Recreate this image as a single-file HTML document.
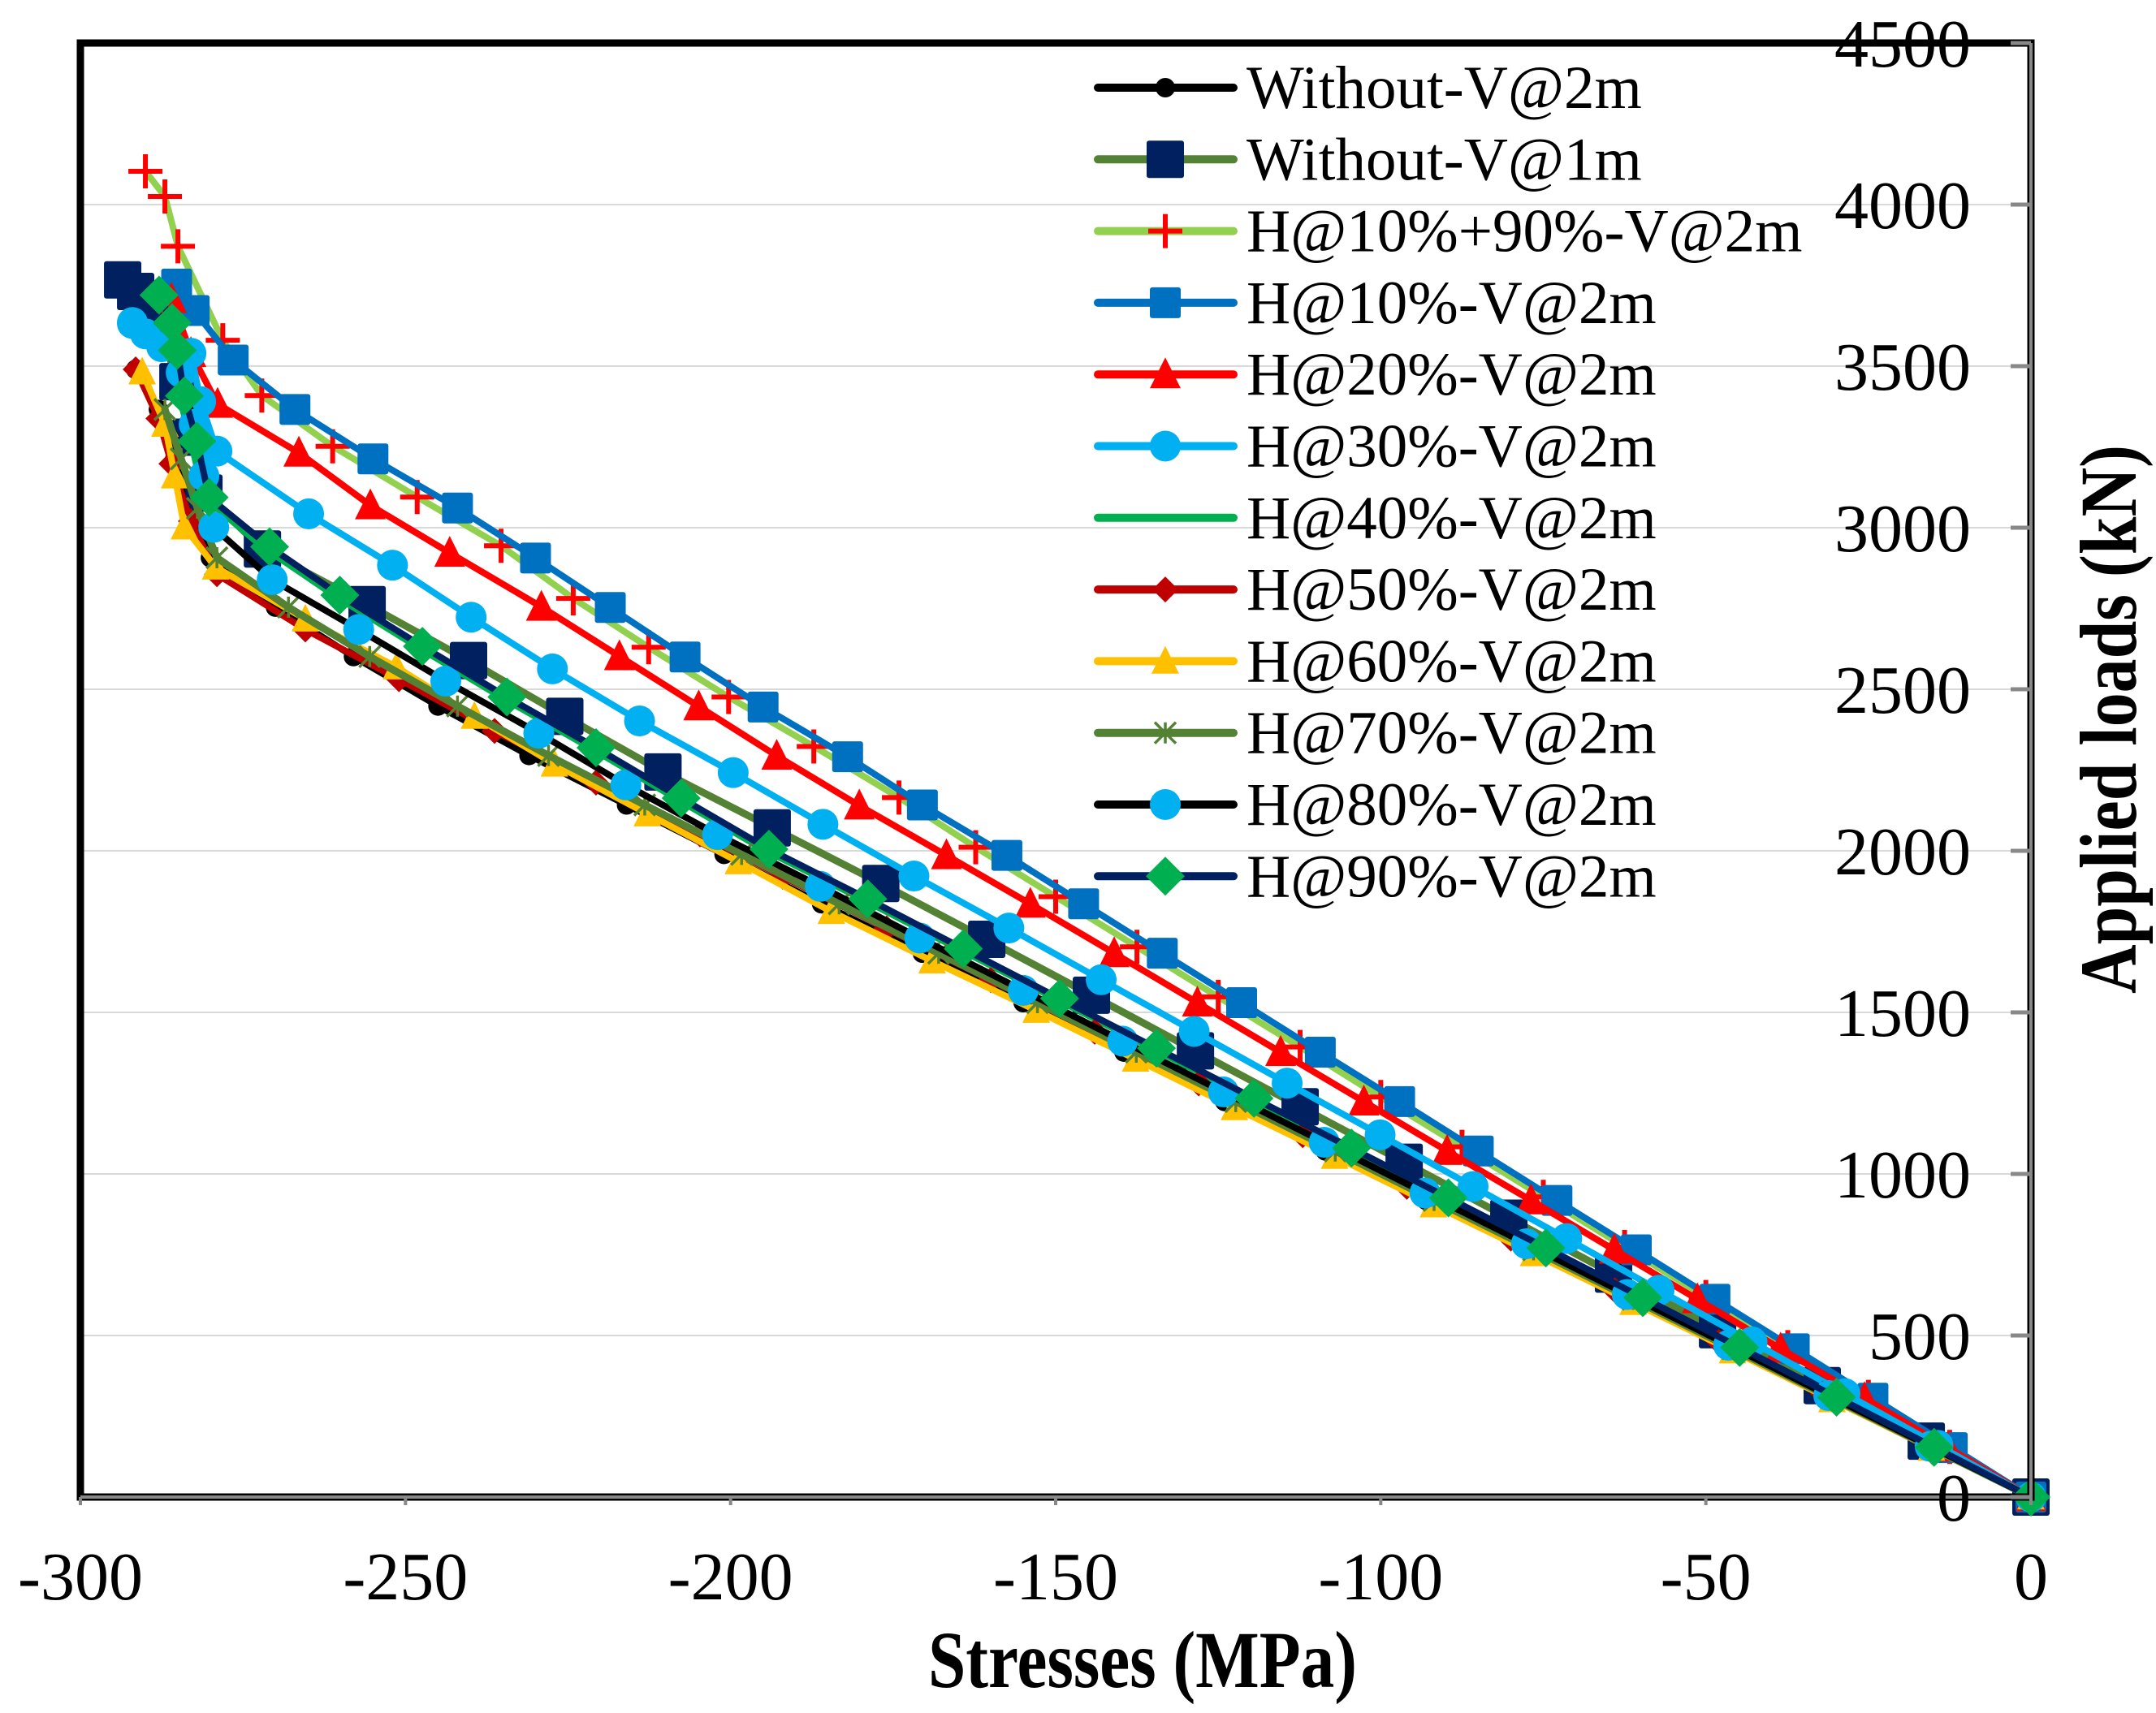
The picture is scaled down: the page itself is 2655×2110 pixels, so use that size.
<!DOCTYPE html>
<html><head><meta charset="utf-8"><style>
html,body{margin:0;padding:0;background:#fff;}
svg{display:block;}
text{font-family:"Liberation Serif","Times New Roman",serif;fill:#000;}
</style></head><body>
<svg id="chart" width="2655" height="2110" viewBox="0 0 2655 2110" xmlns="http://www.w3.org/2000/svg">
<g id="grid"></g>
<g id="series"></g>
<g id="frame"></g>
<g id="ticks"></g>
<g id="legend"></g>
<text x="1407" y="2078" font-size="100" font-weight="bold" text-anchor="middle" textLength="528" lengthAdjust="spacingAndGlyphs">Stresses (MPa)</text>
<text transform="translate(2630,886) rotate(-90)" x="0" y="0" font-size="100" font-weight="bold" text-anchor="middle" textLength="676" lengthAdjust="spacingAndGlyphs">Applied loads (kN)</text>
</svg>
<script>
const xTicks = [-300,-250,-200,-150,-100,-50,0];
const yTicks = [0,500,1000,1500,2000,2500,3000,3500,4000,4500];
const seriesNames = ["Without-V@2m","Without-V@1m","H@10%+90%-V@2m","H@10%-V@2m","H@20%-V@2m","H@30%-V@2m","H@40%-V@2m","H@50%-V@2m","H@60%-V@2m","H@70%-V@2m","H@80%-V@2m","H@90%-V@2m"];

const loadsW2 = [0,153,306,459,612,765,918,1071,1224,1377,1530,1683,1836,1989,2142,2295,2448,2601,2754,2907,3060,3213,3366,3490];
const stressW2 = [0,-15.5,-31,-46.5,-62,-77.5,-93,-108.5,-124,-139.5,-155,-170.5,-186,-201,-216,-231,-245,-258,-270,-280,-283,-285.5,-288,-291.5];
const loadsW1 = [0,173,345,518,690,863,1036,1208,1381,1553,1726,1899,2071,2244,2416,2589,2762,2934,3107,3280,3452,3625,3731,3767];
const stressW1 = [0,-16.1,-32.1,-48.2,-64.2,-80.3,-96.4,-112.4,-128.5,-144.5,-160.6,-176.9,-193.6,-210.4,-225.5,-240.3,-255.9,-272,-281,-283,-285,-288,-291.5,-293.5];
const loadsH1090 = [0,155,310,464,619,774,929,1084,1238,1393,1548,1703,1858,2011,2165,2323,2476,2630,2781,2944,3095,3252,3409,3580,3871,4025,4103];
const stressH1090 = [0,-12.5,-25,-37.4,-50,-62.5,-75,-87.5,-100,-112.4,-125,-137.5,-150,-162.3,-174.1,-187.2,-200.3,-212.6,-224.2,-235.3,-248.2,-261.2,-272.1,-278.1,-285,-287,-290];
const loadsH10 = [0,153,306,459,612,765,918,1071,1224,1377,1530,1683,1836,1986,2142,2291,2445,2600,2753,2906,3061,3213,3366,3519,3672,3754];
const stressH10 = [0,-12.1,-24.3,-36.4,-48.6,-60.7,-72.9,-85,-97.1,-109.3,-121.4,-133.6,-145.7,-157.5,-170.5,-182,-195,-207,-218.5,-230,-242,-255,-267,-276.5,-282.5,-285.2];
const loadsH20 = [0,153,306,459,612,765,918,1071,1224,1377,1530,1683,1836,1986,2140,2294,2447,2602,2755,2922,3069,3232,3383,3540,3708];
const stressH20 = [0,-12.8,-25.6,-38.5,-51.3,-64.1,-76.9,-89.8,-102.6,-115.4,-128.2,-141,-153.9,-166.8,-180.2,-192.9,-204.9,-217.1,-229.1,-243.2,-255.4,-266.4,-278.9,-283,-286];
const loadsH30 = [0,160,320,480,640,800,961,1121,1281,1441,1601,1761,1922,2082,2242,2402,2563,2723,2884,3043,3237,3390,3540,3632];
const stressH30 = [0,-14.3,-28.6,-42.9,-57.2,-71.4,-85.8,-100.1,-114.4,-128.7,-143,-157.2,-171.8,-185.8,-199.6,-214,-227.4,-239.9,-252,-264.9,-279,-281.5,-283,-292];
const loadsH40 = [0,154,309,463,617,771,926,1080,1234,1389,1543,1697,1851,2005,2163,2319,2476,2633,2791,2941,3094,3268,3408,3549];
const stressH40 = [0,-15,-30,-45,-60,-75,-90,-105,-120,-135.2,-150.1,-165,-179.8,-195,-208.5,-221.6,-235.3,-248.3,-261,-272,-281,-283,-284.8,-286];
const loadsH50 = [0,160,320,480,640,800,960,1120,1280,1440,1600,1760,1920,2051,2211,2371,2531,2685,2856,3020,3198,3338,3490];
const stressH50 = [0,-16,-32,-48,-64,-80,-96,-112,-128,-144,-160,-176,-192,-204.7,-220.7,-236.3,-251,-265.4,-279,-283,-286,-288,-291.5];
const loadsH60 = [0,151,301,452,602,753,904,1054,1205,1355,1506,1659,1812,1966,2114,2268,2416,2569,2717,2878,3002,3160,3320,3482];
const stressH60 = [0,-15.3,-30.6,-45.9,-61.2,-76.5,-91.9,-107.1,-122.5,-137.7,-153,-169,-184.5,-198.8,-212.8,-227.1,-239.4,-251.4,-265.4,-279.2,-284,-285.5,-287,-290.5];
const loadsH70 = [0,153,306,459,612,765,918,1071,1224,1377,1530,1683,1836,1989,2142,2295,2448,2601,2754,2907,3060,3213,3366];
const stressH70 = [0,-15.3,-30.6,-45.9,-61.2,-76.5,-91.8,-107,-122.3,-137.6,-152.8,-168,-183.3,-198.3,-213.2,-228,-242,-255.5,-268,-279,-282,-284.5,-287];
const loadsH80 = [0,157,314,470,627,784,941,1098,1254,1411,1568,1730,1890,2050,2204,2364,2525,2685,2839,3001,3160,3320,3480,3560,3600,3635];
const stressH80 = [0,-15.5,-31.1,-46.5,-62.1,-77.6,-93.2,-108.7,-124.2,-139.7,-155,-170.9,-186.2,-202,-216.1,-229.5,-243.8,-257.2,-270.5,-279.5,-281,-282.5,-284.5,-287.5,-290,-292];
const loadsH90 = [0,154,309,463,617,771,926,1080,1234,1389,1543,1697,1851,2005,2163,2319,2476,2633,2791,2941,3094,3268,3408,3549,3634,3720];
const stressH90 = [0,-14.9,-29.9,-44.8,-59.7,-74.6,-89.6,-104.5,-119.5,-134.5,-149.4,-164.2,-178.9,-194.1,-207.6,-220.7,-234.4,-247.4,-260.1,-270.9,-280.2,-282.1,-284,-285.1,-285.9,-287.9];

const NS='http://www.w3.org/2000/svg';
const X0=99, X1=2501, Y0=1844, Y1=53;
function xs(v){return X1+(v-0)*(X1-X0)/300;}
function ys(v){return Y0-v*(Y0-Y1)/4500;}
function mk(tag,attrs,parent){const e=document.createElementNS(NS,tag);for(const k in attrs)e.setAttribute(k,attrs[k]);parent.appendChild(e);return e;}

const styles=[
 {line:'#000000',w:8,m:'circle',mc:'#000000',s:24},
 {line:'#548235',w:9,m:'square',mc:'#002060',s:46},
 {line:'#92d050',w:8,m:'plus',mc:'#ff0000',s:42},
 {line:'#0070c0',w:8,m:'square',mc:'#0070c0',s:38},
 {line:'#ff0000',w:8,m:'triangle',mc:'#ff0000',s:38},
 {line:'#00b0f0',w:8,m:'circle',mc:'#00b0f0',s:38},
 {line:'#00b050',w:8,m:'dash',mc:'#00b050',s:22},
 {line:'#c00000',w:8,m:'diamond',mc:'#c00000',s:32},
 {line:'#ffc000',w:8,m:'triangle',mc:'#ffc000',s:34},
 {line:'#548235',w:9,m:'star',mc:'#548235',s:26},
 {line:'#000000',w:8,m:'circle',mc:'#00b0f0',s:38},
 {line:'#002060',w:8,m:'diamond',mc:'#00b050',s:48}
];
const data=[[loadsW2,stressW2],[loadsW1,stressW1],[loadsH1090,stressH1090],[loadsH10,stressH10],[loadsH20,stressH20],[loadsH30,stressH30],[loadsH40,stressH40],[loadsH50,stressH50],[loadsH60,stressH60],[loadsH70,stressH70],[loadsH80,stressH80],[loadsH90,stressH90]];

function marker(g,st,x,y){
 const s=st.s,h=s/2;let e;
 if(st.m==='circle'){e=mk('circle',{cx:x,cy:y,r:h,fill:st.mc},g);}
 else if(st.m==='square'){e=mk('rect',{x:x-h,y:y-h,width:s,height:s,fill:st.mc,rx:3},g);}
 else if(st.m==='triangle'){e=mk('polygon',{points:`${x},${y-h*1.1} ${x+h},${y+h*0.9} ${x-h},${y+h*0.9}`,fill:st.mc},g);}
 else if(st.m==='diamond'){e=mk('polygon',{points:`${x},${y-h} ${x+h},${y} ${x},${y+h} ${x-h},${y}`,fill:st.mc},g);}
 else if(st.m==='plus'){e=mk('path',{d:`M${x-h} ${y}H${x+h}M${x} ${y-h}V${y+h}`,stroke:st.mc,'stroke-width':6,fill:'none'},g);}
 else if(st.m==='dash'){e=mk('rect',{x:x-h,y:y-4,width:s,height:8,fill:st.mc},g);}
 else if(st.m==='star'){e=mk('path',{d:`M${x-h} ${y-h}L${x+h} ${y+h}M${x-h} ${y+h}L${x+h} ${y-h}M${x} ${y-h}V${y+h}`,stroke:st.mc,'stroke-width':3.5,fill:'none'},g);}
 return e;
}

// grid
const grid=document.getElementById('grid');
yTicks.forEach(t=>{if(t===0||t===4500)return;
 const l=mk('line',{x1:X0,x2:X1,y1:ys(t),y2:ys(t),stroke:'#d9d9d9','stroke-width':2},grid);
 
 
});

// series
const sg=document.getElementById('series');
data.forEach((d,i)=>{
 const st=styles[i];
 const g=mk('g',{},sg);
 
 
 const pts=d[0].map((L,j)=>xs(d[1][j]).toFixed(1)+','+ys(L).toFixed(1)).join(' ');
 const pl=mk('polyline',{points:pts,fill:'none',stroke:st.line,'stroke-width':st.w,'stroke-linejoin':'round','stroke-linecap':'round'},g);
 
 
 d[0].forEach((L,j)=>{
  const m=marker(g,st,xs(d[1][j]),ys(L));
  
  
 });
});

// frame
const fr=document.getElementById('frame');
const box=mk('rect',{x:X0,y:Y1,width:X1-X0,height:Y0-Y1,fill:'none',stroke:'#000','stroke-width':9},fr);


const ax1=mk('line',{x1:X0,x2:X1,y1:Y0,y2:Y0,stroke:'#000','stroke-width':8},fr);


const ax1g=mk('line',{x1:X0,x2:X1+3,y1:Y0,y2:Y0,stroke:'#888','stroke-width':4},fr);


const ax2=mk('line',{x1:X1,x2:X1,y1:Y1-4,y2:Y0+4,stroke:'#000','stroke-width':8},fr);


const ax2g=mk('line',{x1:X1,x2:X1,y1:Y1,y2:Y0+3,stroke:'#888','stroke-width':4},fr);



// ticks & labels
const tk=document.getElementById('ticks');
yTicks.forEach(t=>{
 const l=mk('line',{x1:X1-25,x2:X1,y1:ys(t),y2:ys(t),stroke:'#888','stroke-width':5},tk);
 
 
 const tx=mk('text',{x:2427,y:ys(t)+29,'font-size':84,'text-anchor':'end'},tk);
 tx.textContent=t;
 
 
});
xTicks.forEach(t=>{
 const l=mk('line',{x1:xs(t),x2:xs(t),y1:Y0,y2:Y0+10,stroke:'#888','stroke-width':4},tk);
 
 
 const tx=mk('text',{x:xs(t),y:1970,'font-size':84,'text-anchor':'middle'},tk);
 tx.textContent=t;
 
 
});

// legend
const lg=document.getElementById('legend');
seriesNames.forEach((n,i)=>{
 const st=styles[i];const y=108+i*88.3;
 const g=mk('g',{},lg);
 
 
 mk('line',{x1:1352,x2:1519,y1:y,y2:y,stroke:st.line,'stroke-width':10,'stroke-linecap':'round'},g);
 marker(g,st,1435,y);
 const tx=mk('text',{x:1535,y:y+25,'font-size':75},g);
 tx.textContent=n;
 
 
});
</script>
</body></html>
